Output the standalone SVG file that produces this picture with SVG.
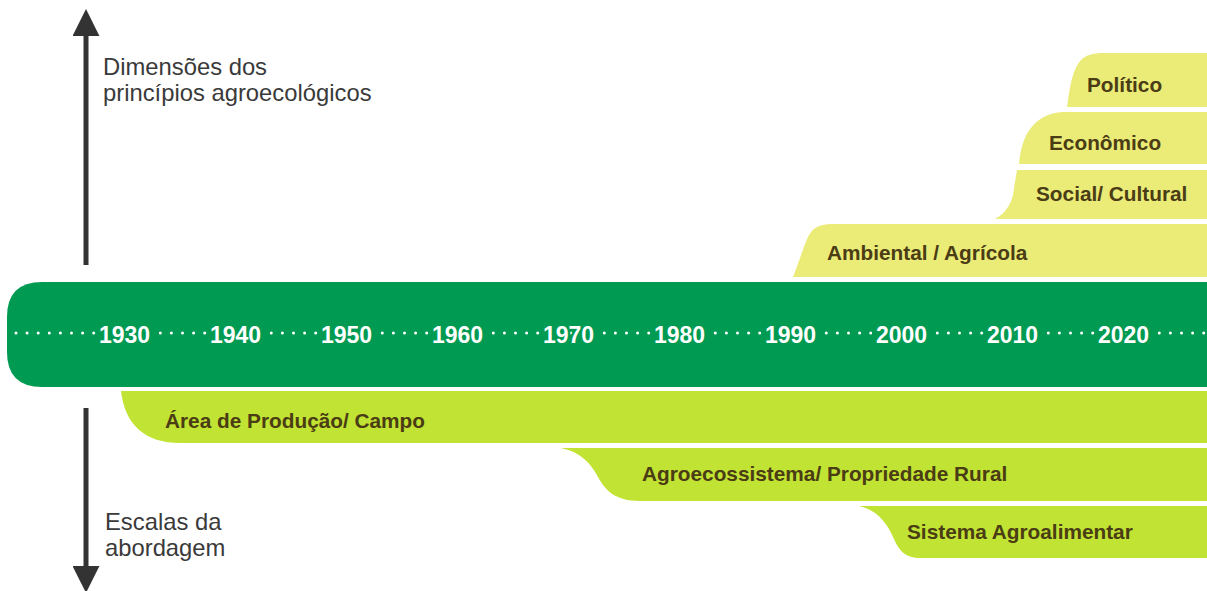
<svg xmlns="http://www.w3.org/2000/svg" width="1207" height="591" viewBox="0 0 1207 591">
<style>
.yel{fill:#ebeb77}
.lime{fill:#c1e333}
.lbl{font-family:"Liberation Sans",Arial,sans-serif;font-weight:bold;font-size:20.8px;fill:#4a3c14}
.yr{font-family:"Liberation Sans",Arial,sans-serif;font-weight:bold;font-size:23px;fill:#fff;text-anchor:middle;stroke:#009a52;stroke-width:5;paint-order:stroke}
.ax{font-family:"Liberation Sans",Arial,sans-serif;font-size:23.8px;fill:#3a3a3a}
.arr{stroke:#333;stroke-width:5;fill:none}
</style>
<defs>
<marker id="ah" viewBox="0 0 10 10" refX="3" refY="5" markerWidth="5.4" markerHeight="5.4" orient="auto-start-reverse" markerUnits="strokeWidth">
<path d="M0,0 L10,5 L0,10 Z" fill="#333"/>
</marker>
</defs>
<g id="timeline">
<path d="M42,282 H1207 V387 H42 Q7,387 7,352 V317 Q7,282 42,282 Z" fill="#009a52"/>
<line x1="16" y1="333" x2="1204" y2="333" stroke="#fff" stroke-width="3" stroke-linecap="round" stroke-dasharray="0 11.1"/>
<text class="yr" x="124.5" y="343">1930</text>
<text class="yr" x="235.5" y="343">1940</text>
<text class="yr" x="346.5" y="343">1950</text>
<text class="yr" x="457.5" y="343">1960</text>
<text class="yr" x="568.5" y="343">1970</text>
<text class="yr" x="679.5" y="343">1980</text>
<text class="yr" x="790.5" y="343">1990</text>
<text class="yr" x="901.5" y="343">2000</text>
<text class="yr" x="1012.5" y="343">2010</text>
<text class="yr" x="1123.5" y="343">2020</text>
</g>
<g id="politico">
<path class="yel" d="M1067,107 C1070,85 1073,68 1081,60 C1086,55 1093,53 1104,53 H1207 V107 Z"/>
<text class="lbl" x="1087" y="92">Político</text>
</g>
<g id="economico">
<path class="yel" d="M1019,164 C1021,140 1030,115 1062,112 H1207 V164 Z"/>
<text class="lbl" x="1049" y="150">Econômico</text>
</g>
<g id="social">
<path class="yel" d="M995,219 C1008,212 1013,200 1014,188 L1017,170 H1207 V219 Z"/>
<text class="lbl" x="1036" y="201">Social/ Cultural</text>
</g>
<g id="ambiental">
<path class="yel" d="M793,277 C799,262 803,248 808,237 C812,229 818,224 832,224 H1207 V277 Z"/>
<text class="lbl" x="827" y="260">Ambiental / Agrícola</text>
</g>
<g id="area">
<path class="lime" d="M121,391 H1207 V443 H180 C145,443 125,425 121,391 Z"/>
<text class="lbl" x="165" y="428">Área de Produção/ Campo</text>
</g>
<g id="agroecossistema">
<path class="lime" d="M561,448 H1207 V501 H640 C615,501 605,490 598,477 C590,462 580,452 561,448 Z"/>
<text class="lbl" x="642" y="481">Agroecossistema/ Propriedade Rural</text>
</g>
<g id="sistema">
<path class="lime" d="M859,506 H1207 V558 H920 C903,558 898,548 893,537 C887,523 877,510 859,506 Z"/>
<text class="lbl" x="907" y="539">Sistema Agroalimentar</text>
</g>
<g id="connectors">
<line class="arr" x1="86" y1="265" x2="86" y2="28" marker-end="url(#ah)"/>
<line class="arr" x1="86" y1="408" x2="86" y2="574" marker-end="url(#ah)"/>
</g>
<g id="axis-labels">
<text class="ax" x="103" y="75">Dimensões dos</text>
<text class="ax" x="103" y="101">princípios agroecológicos</text>
<text class="ax" x="105" y="530">Escalas da</text>
<text class="ax" x="105" y="556">abordagem</text>
</g>
</svg>
